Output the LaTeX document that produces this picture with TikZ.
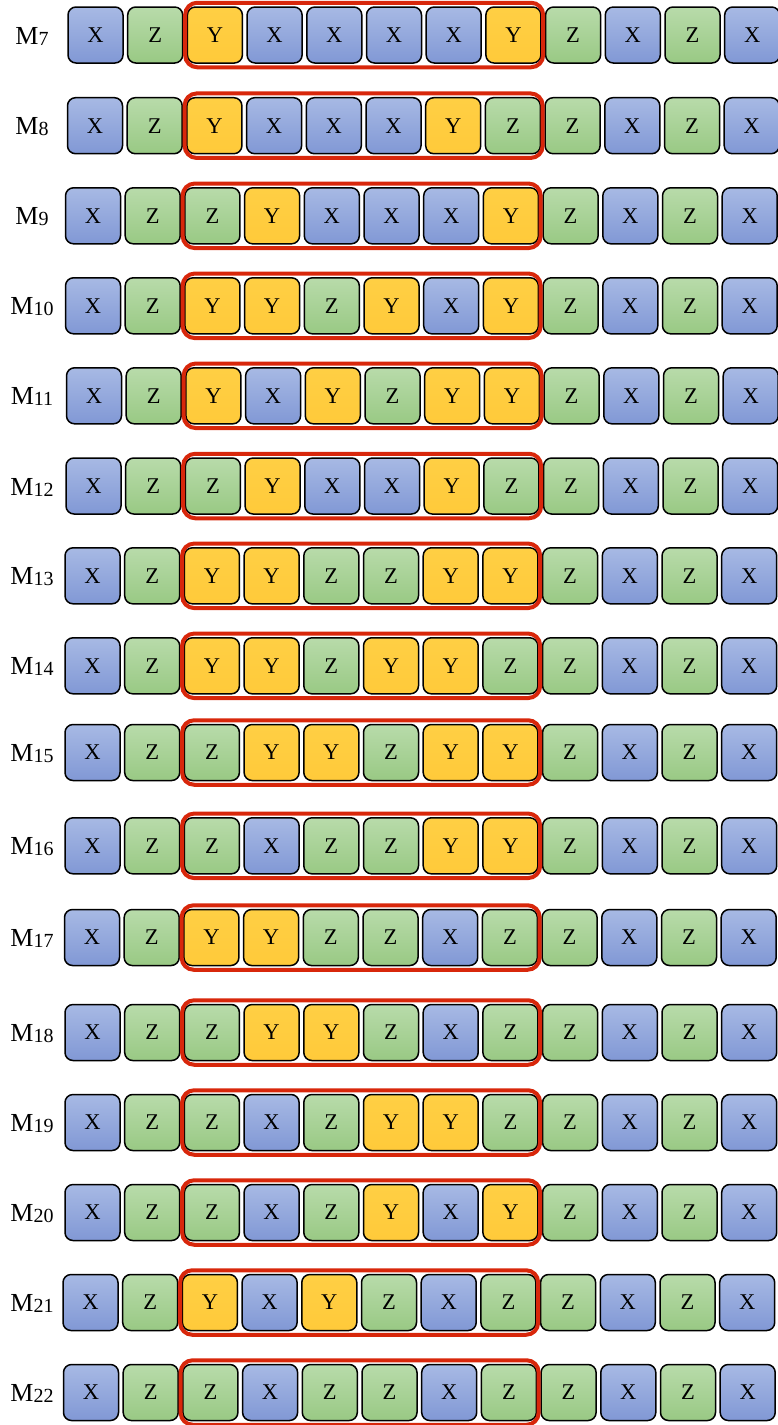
\documentclass[tikz,border=0pt]{standalone}
\usepackage{fontspec}
\setmainfont{Liberation Serif}
\usetikzlibrary{fit}
\definecolor{topX}{HTML}{A7B9E4}
\definecolor{botX}{HTML}{8198D5}
\definecolor{topZ}{HTML}{B8DBAA}
\definecolor{botZ}{HTML}{99C984}
\definecolor{topY}{HTML}{FFCF44}
\definecolor{botY}{HTML}{FFCA3A}
\definecolor{frameRed}{HTML}{D8270B}
\tikzset{
  cell/.style={draw=black,line width=1.5pt,rounded corners=8pt,
    minimum width=55pt,minimum height=56pt,inner sep=0pt,
    top color=top#1,bottom color=bot#1,
    font=\fontsize{22.5}{22.5}\selectfont},
  frame/.style={draw=frameRed,line width=4pt,rounded corners=12pt,
    inner xsep=1.5pt,inner ysep=3.5pt},
  lbl/.style={font=\fontsize{26}{26}\selectfont}
}
\begin{document}
\begin{tikzpicture}[x=1pt,y=-1pt]
  \useasboundingbox (0,0) rectangle (777,1425);
  \foreach \n/\y/\x/\seq in {%
      7/35/68/{X,Z,Y,X,X,X,X,Y,Z,X,Z,X},
      8/125.7/67.5/{X,Z,Y,X,X,X,Y,Z,Z,X,Z,X},
      9/215.8/65.5/{X,Z,Z,Y,X,X,X,Y,Z,X,Z,X},
      10/305.8/65.5/{X,Z,Y,Y,Z,Y,X,Y,Z,X,Z,X},
      11/395.8/66.5/{X,Z,Y,X,Y,Z,Y,Y,Z,X,Z,X},
      12/486/66/{X,Z,Z,Y,X,X,Y,Z,Z,X,Z,X},
      13/575.8/65/{X,Z,Y,Y,Z,Z,Y,Y,Z,X,Z,X},
      14/665.8/65/{X,Z,Y,Y,Z,Y,Y,Z,Z,X,Z,X},
      15/752.5/65/{X,Z,Z,Y,Y,Z,Y,Y,Z,X,Z,X},
      16/845.8/65/{X,Z,Z,X,Z,Z,Y,Y,Z,X,Z,X},
      17/937.5/64.5/{X,Z,Y,Y,Z,Z,X,Z,Z,X,Z,X},
      18/1032.5/65/{X,Z,Z,Y,Y,Z,X,Z,Z,X,Z,X},
      19/1122.5/65/{X,Z,Z,X,Z,Y,Y,Z,Z,X,Z,X},
      20/1212.5/65/{X,Z,Z,X,Z,Y,X,Y,Z,X,Z,X},
      21/1302.5/63/{X,Z,Y,X,Y,Z,X,Z,Z,X,Z,X},
      22/1392.5/63.5/{X,Z,Z,X,Z,Z,X,Z,Z,X,Z,X}}{%
    \node[lbl,anchor=base] (m\n) at (32,\y+9) {M{\fontsize{20}{20}\selectfont\raisebox{-1pt}{\n}}};
    \foreach \t [count=\c] in \seq {
      \node[cell=\t] (b\n-\c) at ({\x+27.5+(\c-1)*59.7},\y) {\t};
    }
    \node[frame,fit=(b\n-3)(b\n-8)] (f\n) {};
  }
\end{tikzpicture}
\end{document}
